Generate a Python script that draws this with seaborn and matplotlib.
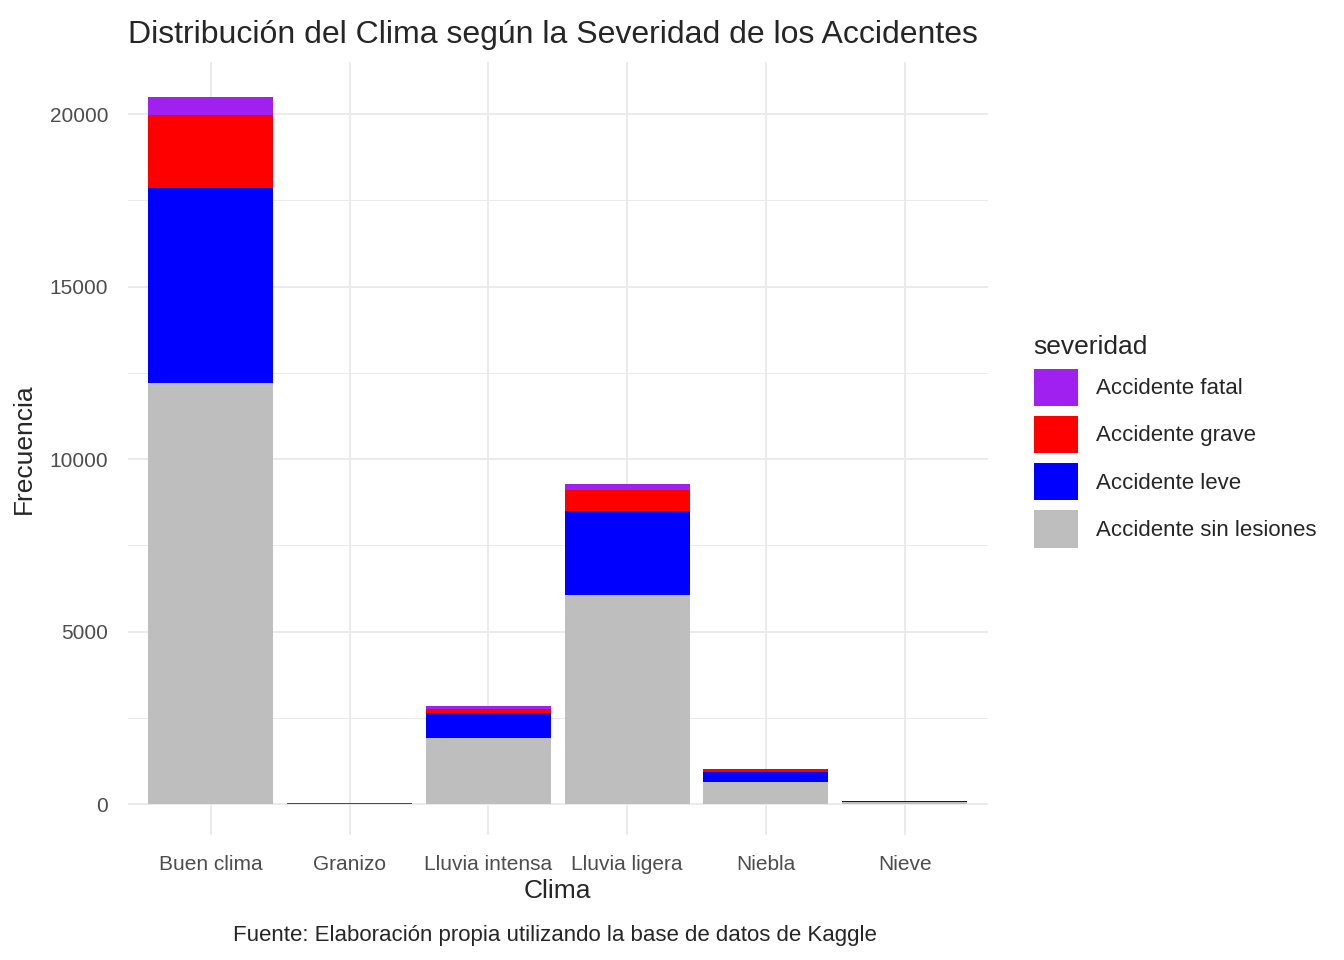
import matplotlib
matplotlib.use("Agg")
import matplotlib.pyplot as plt
import seaborn as sns
import numpy as np
import pandas as pd

climas = ["Buen clima", "Granizo", "Lluvia intensa", "Lluvia ligera", "Niebla", "Nieve"]
sin_lesiones = [12220, 15, 1920, 6050, 640, 75]
leve = [5650, 3, 730, 2450, 290, 22]
grave = [2100, 1, 115, 610, 88, 4]
fatal = [520, 0, 85, 175, 12, 1]

severidades = ["Accidente sin lesiones", "Accidente leve", "Accidente grave", "Accidente fatal"]
colores = {"Accidente sin lesiones": "#BEBEBE", "Accidente leve": "#0000FF",
           "Accidente grave": "#FF0000", "Accidente fatal": "#A020F0"}

sns.set_theme(style="whitegrid")
plt.rcParams['font.family'] = ['Liberation Sans', 'DejaVu Sans']

fig = plt.figure(figsize=(13.44, 9.6), dpi=100)
ax = fig.add_axes([0.095, 0.13, 0.64, 0.805])

vals = [sin_lesiones, leve, grave, fatal]
bottom = np.zeros(len(climas))
handles = []
x = np.arange(len(climas))
for sev, v in zip(severidades, vals):
    b = ax.bar(x, v, bottom=bottom, width=0.9, color=colores[sev], label=sev, linewidth=0)
    handles.append(b)
    bottom += np.array(v)

ax.set_xticks(x)
ax.set_xticklabels(climas, fontsize=15, color="#4D4D4D")
ax.set_xlim(-0.6, 5.6)
ax.set_ylim(-900, 21500)
ax.set_yticks([0, 5000, 10000, 15000, 20000])
ax.set_yticklabels(["0", "5000", "10000", "15000", "20000"], fontsize=15, color="#4D4D4D")
ax.set_yticks([2500, 7500, 12500, 17500], minor=True)
ax.grid(True, which="major", color="#EBEBEB", linewidth=1.4)
ax.grid(True, which="minor", color="#EBEBEB", linewidth=0.7)
ax.tick_params(which="both", length=0)
ax.tick_params(axis="x", pad=14)
ax.tick_params(axis="y", pad=14)
for s in ax.spines.values():
    s.set_visible(False)
ax.set_axisbelow(True)
ax.set_xlabel("Clima", fontsize=19, labelpad=4)
ax.set_ylabel("Frecuencia", fontsize=19, labelpad=10)
ax.set_title("Distribución del Clima según la Severidad de los Accidentes", fontsize=23, loc="left", x=-0.0, pad=14)

leg = ax.legend(handles[::-1], severidades[::-1], title="severidad", loc="center left",
                bbox_to_anchor=(1.03, 0.51), frameon=False, fontsize=16, title_fontsize=19,
                handlelength=2.0, handleheight=2.2, labelspacing=0.45, alignment="left")
fig.text(0.413, 0.02, "Fuente: Elaboración propia utilizando la base de datos de Kaggle",
         ha="center", fontsize=16)
fig.savefig("out.png", dpi=100)
